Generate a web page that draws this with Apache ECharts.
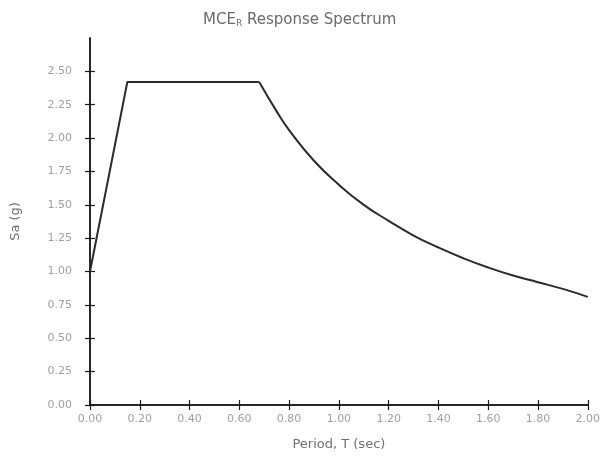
<!DOCTYPE html>
<html>
<head>
<meta charset="utf-8">
<script src="https://cdn.jsdelivr.net/npm/echarts@6/dist/echarts.min.js"></script>
<style>
  html, body { margin: 0; padding: 0; background: #fff; }
  #chart { width: 603px; height: 464px; }
</style>
</head>
<body>
<div id="chart"></div>
<script>
// valores
const rampPeriods = [0.00, 0.15, 0.68];
const rampSa = [1.00, 2.42, 2.42];
const decayPeriods = [0.68, 0.75, 0.80, 0.90, 1.00, 1.10, 1.20, 1.30, 1.40, 1.50, 1.60, 1.70, 1.80, 1.90, 2.00];
const decaySa = [2.42, 2.20, 2.06, 1.83, 1.65, 1.50, 1.38, 1.27, 1.18, 1.10, 1.03, 0.97, 0.92, 0.87, 0.81];
const xTicks = [0, 0.2, 0.4, 0.6, 0.8, 1.0, 1.2, 1.4, 1.6, 1.8, 2.0];
const yTicks = [0, 0.25, 0.5, 0.75, 1.0, 1.25, 1.5, 1.75, 2.0, 2.25, 2.5];

const contenedor = document.getElementById('chart');
const miGrafico = echarts.init(contenedor);

const labelStyle = { color: '#a0a0a0', fontSize: 11, fontFamily: 'DejaVu Sans' };
const nameStyle = { color: '#707070', fontSize: 13, fontFamily: 'DejaVu Sans' };
const lineaEje = { show: true, lineStyle: { color: '#1a1a1a', width: 1.5 } };

// dos ejes por lado para que las marcas crucen la linea
function ejeX(inside, visible) {
  return {
    type: 'value', min: 0, max: 2, interval: 0.2,
    position: 'bottom',
    axisLine: lineaEje,
    axisTick: { show: true, inside: inside, length: 5, customValues: xTicks, lineStyle: { color: '#1a1a1a', width: 1.2 } },
    axisLabel: visible ? Object.assign({ margin: 9, customValues: xTicks, formatter: v => v.toFixed(2) }, labelStyle) : { show: false },
    splitLine: { show: false },
    name: visible ? 'Period, T (sec)' : '',
    nameLocation: 'middle', nameGap: 33,
    nameTextStyle: nameStyle
  };
}
function ejeY(inside, visible) {
  return {
    type: 'value', min: 0, max: 2.75, interval: 0.25,
    position: 'left',
    axisLine: lineaEje,
    axisTick: { show: true, inside: inside, length: 5, customValues: yTicks, lineStyle: { color: '#1a1a1a', width: 1.2 } },
    axisLabel: visible ? Object.assign({ margin: 18, customValues: yTicks, formatter: v => v.toFixed(2) }, labelStyle) : { show: false },
    splitLine: { show: false },
    name: visible ? 'Sa (g)' : '',
    nameLocation: 'middle', nameGap: 68,
    nameTextStyle: nameStyle
  };
}

const option = {
  animation: false,
  backgroundColor: '#fff',
  title: {
    text: '{a|MCE}{s|R}{a| Response Spectrum}',
    left: 198, top: 7,
    textStyle: {
      rich: {
        a: { color: '#6a6a6a', fontSize: 15, fontWeight: 'normal', fontFamily: 'DejaVu Sans' },
        s: { color: '#6a6a6a', fontSize: 9, fontWeight: 'normal', fontFamily: 'DejaVu Sans', verticalAlign: 'bottom', padding: [7, 0, 0, 0] }
      }
    }
  },
  grid: { left: 90, right: 15, top: 38, bottom: 59 },
  xAxis: [ejeX(false, true), ejeX(true, false)],
  yAxis: [ejeY(false, true), ejeY(true, false)],
  series: [{
    type: 'line',
    data: rampPeriods.map((t, i) => [t, rampSa[i]]),
    showSymbol: false,
    lineStyle: { color: '#2b2b2b', width: 2 }
  }, {
    type: 'line',
    data: decayPeriods.map((t, i) => [t, decaySa[i]]),
    showSymbol: false,
    smooth: 0.5,
    lineStyle: { color: '#2b2b2b', width: 2 }
  }]
};

miGrafico.setOption(option);
</script>
</body>
</html>
